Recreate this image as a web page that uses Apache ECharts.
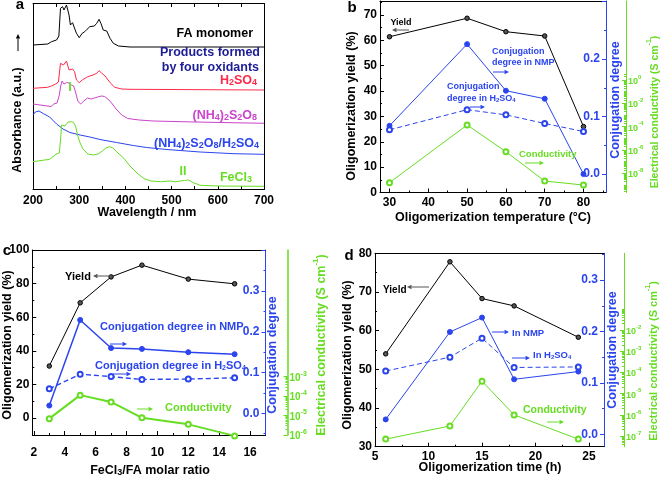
<!DOCTYPE html>
<html><head><meta charset="utf-8">
<script src="https://cdn.jsdelivr.net/npm/echarts@6/dist/echarts.min.js"></script>
<style>html,body{margin:0;padding:0;background:#fff}#c{width:661px;height:478px}</style>
</head><body><div id="c"></div>
<script>
// ---------------- DATA ----------------
// Panel a: UV-vis spectra (absorbance in arbitrary, offset units)
const aMonomerNm  = [200,232,240,251,256,259.5,264,267,272.5,278,281,285.6,289,294,300,306.5,312,317,323,327,332.6,338,343,347,352,359.6,366.7,374,385,410,700];
const aMonomerAbs = [144.5,145.5,147.8,149.5,153.5,181.2,182.8,179.5,184.5,174.5,164.5,166.8,166.2,156.2,151.8,156.2,157.8,160.2,162.8,161.8,163.5,166.2,170.2,166.2,159.5,158.5,151.2,146.2,143.5,142.5,142.5];
const aH2SO4Nm  = [200,231,240,249,255,259.5,263,266,272.5,278,281,285.6,290,294,300,306.5,316,323,330,338,343,349,356,367,377,392,410,700];
const aH2SO4Abs = [101.2,102.2,103.5,105.5,107.5,126.2,127.8,124.5,128.5,119.5,117.8,120.5,117.8,109.5,106.8,109.5,112.2,113.5,114.5,116.2,118.8,116.2,113.5,106.8,102.2,100.5,100.2,99.5];
const aAPSNm  = [200,239,245,252,257,260,263,267,273,278,283,288,292,297,303,310,318,326,333,340,348,355,362,370,380,392,405,430,460,550,700];
const aAPSAbs = [85.5,83,85.5,86.5,94.5,103.5,108.5,105.5,107,106.5,104.5,103.5,97.5,88.5,85.5,88.5,91.5,90.5,91.5,92.5,93.5,93,90.5,86.5,80.5,74.5,71,69.5,68.5,67.5,66.2];
const aAPSH2SO4Nm  = [200,205,213,222,236,251,265,280,302,323,345,381,417,446,490,562,635,700];
const aAPSH2SO4Abs = [74.5,77.5,78.5,76,72.5,65.5,60.5,57,54.5,52.5,50,47,44,42,40,37.5,35.8,35.2];
const aFeCl3Nm  = [200,236,243,248,257,259.5,262,265,269,276,283,288,292,297,302,308,319,330,341,350,358,366,373,384,396,410,425,440,455,476,497,508,518,528,537,546,562,600,700];
const aFeCl3Abs = [27.8,30.2,32.5,35,36.5,49.5,64.5,65,63.5,67.5,67.8,67,63.5,53.5,46.5,40.5,35.5,34.5,35.5,38.5,41.5,42.8,41.5,36.5,31.5,23.5,16.5,11,8.5,7.8,8.5,7.7,8.5,9,9.5,7,4.2,3.5,3.2];
const aXTicks = [200,300,400,500,600,700];

// Panel b: temperature series
const bTemp      = [30,50,60,70,80];
const bYield     = [61.4,68.7,63.4,61.7,26.0];
const bConjNMP   = [0.084,0.226,0.145,0.131,0.0];
const bConjH2SO4 = [0.077,0.112,0.103,0.088,0.074];
const bCond      = [1.6e-9,1.4e-4,7.2e-7,2.2e-9,1.0e-9];   // S/cm
const bXTicks = [30,40,50,60,70,80];
const bYTicks = [0,10,20,30,40,50,60,70];
const bConjTicks = [0.0,0.1,0.2];
const bCondTicks = [0,-2,-4,-6,-8]; // exponents

// Panel c: FeCl3/FA molar ratio series
const cRatio     = [3,5,7,9,12,15];
const cYield     = [31.0,68.6,84.0,91.0,82.7,79.9];
const cConjNMP   = [0.019,0.229,0.160,0.158,0.150,0.145];
const cConjH2SO4 = [0.060,0.096,0.090,0.083,0.084,0.087];
const cCond      = [6.9e-6,1.12e-4,5.0e-5,7.6e-6,3.5e-6,8.9e-7];
const cXTicks = [2,4,6,8,10,12,14,16];
const cYTicks = [0,20,40,60,80,100];
const cConjTicks = [0.0,0.1,0.2,0.3];
const cCondTicks = [-3,-4,-5,-6];

// Panel d: time series
const dTime      = [6,12,15,18,24];
const dYield     = [54.0,77.8,68.3,66.4,58.3];
const dConjNMP   = [0.029,0.199,0.227,0.107,0.122];
const dConjH2SO4 = [0.123,0.150,0.187,0.130,0.131];
const dCond      = [7.2e-8,3.0e-7,3.9e-5,1.0e-6,7.2e-8];
const dXTicks = [5,10,15,20,25];
const dYTicks = [30,40,50,60,70,80];
const dConjTicks = [0.0,0.1,0.2,0.3];
const dCondTicks = [-2,-3,-4,-5,-6,-7];

// ---------------- STYLE ----------------
const FONT = "'Liberation Sans', Arial, Helvetica, sans-serif";
const BLACK='#000000', BLUE='#2b45ee', GREEN='#66dd22', RED='#ff2a4a', MAG='#cc44cc', NAVY='#1c1c96';

function seq(a,b,s){const r=[];for(let v=a;v<=b+1e-9;v+=s)r.push(+v.toFixed(6));return r;}
function logMinor(lo,hi){const r=[];for(let n=Math.floor(lo)-1;n<=Math.ceil(hi);n++){for(let k=1;k<=9;k++){const v=+(n+Math.log10(k)).toFixed(5);if(v>=lo&&v<=hi)r.push(v);}}return r;}

const xAxes=[], yAxes=[], series=[], graphic=[];
function ax(list,o){
  list.push({
    type:'value', gridIndex:o.g, min:o.min, max:o.max, position:o.pos, offset:o.off||0,
    axisLine:{show:o.line!==false, onZero:false, lineStyle:{color:o.c||BLACK, width:o.lw||1}},
    axisTick:{show:!!o.ticks, inside:true, length:o.len||4, customValues:o.ticks||[], lineStyle:{color:o.c||BLACK, width:1}},
    axisLabel:{show:!!o.labels, customValues:o.labels||[], inside:!!o.lin, margin:(o.m==null?4:o.m),
      formatter:o.fmt||null, color:o.lc||o.c||BLACK, fontFamily:FONT, fontWeight:'bold', fontSize:o.fs||12, rich:o.rich||{}},
    splitLine:{show:false}, minorTick:{show:false}, silent:true
  });
  return list.length-1;
}
function line(xs,ys,xi,yi,color,o={}){
  series.push({
    type:'line', xAxisIndex:xi, yAxisIndex:yi, data:xs.map((x,i)=>[x,ys[i]]),
    symbol:o.sym||'none', symbolSize:o.ss||4.5, showSymbol:!!o.sym, clip:false,
    lineStyle:{color, width:o.lw||1, type:o.dash?[5,3]:'solid'},
    itemStyle:{color:o.fill||color, borderColor:o.border||color, borderWidth:1}, z:o.z||3
  });
}
function chemRich(s){return s.split(/(\d+)/).filter(t=>t!=='').map(t=>/^\d+$/.test(t)?'{s|'+t+'}':'{n|'+t+'}').join('');}
function T(x,y,text,o={}){
  const fs=o.fs||12, col=o.c||BLACK, al=o.a||'center';
  const st={text, fill:col, font:'bold '+fs+'px '+FONT, align:al, verticalAlign:'middle', textAlign:al, textVerticalAlign:'middle'};
  if(o.chem){
    st.text=chemRich(text);
    st.rich={n:{font:'bold '+fs+'px '+FONT, fill:col, lineHeight:fs+2, verticalAlign:'bottom'},
             s:{font:'bold '+Math.round(fs*0.68)+'px '+FONT, fill:col, lineHeight:Math.round(fs*0.75), verticalAlign:'bottom'}};
  }
  if(o.sup){
    st.text=o.sup;
    st.rich={n:{font:'bold '+fs+'px '+FONT, fill:col, lineHeight:fs+4, verticalAlign:'bottom'},
             p:{font:'bold '+Math.round(fs*0.65)+'px '+FONT, fill:col, lineHeight:Math.round(fs*0.7), verticalAlign:'top'}};
  }
  graphic.push({type:'text', x, y, rotation:o.r||0, z:50, silent:true, style:st});
}
function arrow(x1,y1,x2,y2,color){
  const ang=Math.atan2(y2-y1,x2-x1), L=4.5, W=2.2;
  const bx=x2-L*Math.cos(ang), by=y2-L*Math.sin(ang), px=-Math.sin(ang)*W, py=Math.cos(ang)*W;
  graphic.push({type:'line', silent:true, z:50, shape:{x1,y1,x2:bx,y2:by}, style:{stroke:color, lineWidth:1}});
  graphic.push({type:'polygon', silent:true, z:50, shape:{points:[[x2,y2],[bx+px,by+py],[bx-px,by-py]]}, style:{fill:color}});
}
const condRich = fs => ({b:{fontSize:fs, fontWeight:'bold', color:GREEN, fontFamily:FONT, lineHeight:fs+3, verticalAlign:'bottom'},
                         p:{fontSize:Math.round(fs*0.65), fontWeight:'bold', color:GREEN, fontFamily:FONT, lineHeight:Math.round(fs*0.7), verticalAlign:'top'}});
const condFmt = v => '{b|10}{p|' + Math.round(v) + '}';
const conjFmt = v => (+v).toFixed(1);
const log10 = arr => arr.map(v=>Math.log10(v));

// ---------------- PANEL A ----------------
{
  const g=0;
  const xi=ax(xAxes,{g,min:200,max:700,pos:'bottom',ticks:seq(200,700,50),labels:aXTicks,len:3.5,m:5});
  ax(xAxes,{g,min:200,max:700,pos:'top',ticks:seq(250,650,50),len:3.5});
  const yi=ax(yAxes,{g,min:0,max:186,pos:'left'});
  ax(yAxes,{g,min:0,max:186,pos:'right'});
  line(aMonomerNm,aMonomerAbs,xi,yi,BLACK);
  line(aH2SO4Nm,aH2SO4Abs,xi,yi,RED);
  line(aAPSNm,aAPSAbs,xi,yi,MAG);
  line(aAPSH2SO4Nm,aAPSH2SO4Abs,xi,yi,BLUE);
  line(aFeCl3Nm,aFeCl3Abs,xi,yi,GREEN);
  T(20,5,'a',{fs:15});
  T(253,34,'FA monomer',{a:'right',fs:12.5});
  T(260,53,'Products formed',{a:'right',fs:12.5,c:NAVY});
  T(259,68,'by four oxidants',{a:'right',fs:12.5,c:NAVY});
  T(257,80,'H2SO4',{a:'right',fs:12.5,c:RED,chem:true});
  T(257,115,'(NH4)2S2O8',{a:'right',fs:12.5,c:MAG,chem:true});
  T(259,143,'(NH4)2S2O8/H2SO4',{a:'right',fs:12.5,c:BLUE,chem:true});
  T(70,88,'I',{fs:12.5,c:GREEN});
  T(183,172,'II',{fs:12.5,c:GREEN});
  T(252,177,'FeCl3',{a:'right',fs:12.5,c:GREEN,chem:true});
  T(147,213,'Wavelength / nm',{fs:12.5});
  T(18,120,'Absorbance (a.u.)',{fs:12.5,r:Math.PI/2});
  arrow(18,51,18,34,BLACK);
}

// ---------------- PANEL B ----------------
{
  const g=1;
  const xi=ax(xAxes,{g,min:27.55,max:85.8,pos:'bottom',ticks:bXTicks,labels:bXTicks,m:4.5});
  ax(xAxes,{g,min:27.55,max:85.8,pos:'bottom',line:false,ticks:seq(35,85,10),len:2});
  ax(xAxes,{g,min:27.55,max:85.8,pos:'top'});
  const yi=ax(yAxes,{g,min:0,max:75.5,pos:'left',ticks:bYTicks,labels:bYTicks,m:3});
  ax(yAxes,{g,min:0,max:75.5,pos:'left',line:false,ticks:seq(5,75,10),len:2});
  const yb=ax(yAxes,{g,min:-0.032,max:0.301,pos:'right',c:BLUE,ticks:[0,0.1,0.2,0.3],labels:bConjTicks,lin:true,m:6,fmt:conjFmt});
  ax(yAxes,{g,min:-0.032,max:0.301,pos:'right',c:BLUE,line:false,ticks:[0.05,0.15,0.25],len:2});
  const yg=ax(yAxes,{g,min:-9.64,max:6.77,pos:'right',off:20,c:GREEN,ticks:bCondTicks,labels:bCondTicks,m:2,fmt:condFmt,rich:condRich(9),len:4});
  ax(yAxes,{g,min:-9.64,max:6.77,pos:'right',off:20,c:GREEN,line:false,ticks:logMinor(-9.64,0.6),len:2});
  line(bTemp,bYield,xi,yi,BLACK,{sym:'circle',fill:'#555',border:BLACK,ss:4.5});
  line(bTemp,bConjNMP,xi,yb,BLUE,{sym:'circle',ss:5});
  line(bTemp,bConjH2SO4,xi,yb,BLUE,{sym:'emptyCircle',ss:5,dash:true});
  line(bTemp,log10(bCond),xi,yg,GREEN,{sym:'emptyCircle',ss:5});
  T(352,8,'b',{fs:15});
  T(401,23,'Yield',{fs:9});
  arrow(409,30,392,30,'#555');
  T(492,52,'Conjugation',{a:'left',fs:9,c:BLUE});
  T(492,63,'degree in NMP',{a:'left',fs:9,c:BLUE});
  arrow(493,72,509,72,BLUE);
  T(447,87,'Conjugation',{a:'left',fs:9,c:BLUE});
  T(447,98,'degree in H2SO4',{a:'left',fs:9,c:BLUE,chem:true});
  arrow(470,107,485,107,BLUE);
  T(519,154,'Conductivity',{a:'left',fs:9.5,c:GREEN});
  arrow(525,163,544,163,GREEN);
  T(493,218,'Oligomerization temperature (°C)',{fs:12.5});
  T(352,106,'Oligomerization yield (%)',{fs:12.5,r:Math.PI/2});
  T(616,100,'Conjugation degree',{fs:12.5,c:BLUE,r:Math.PI/2});
  T(653,112,'',{fs:10.5,c:GREEN,r:Math.PI/2,sup:'{n|Electrical conductivity (S cm}{p|-1}{n|)}'});
}

// ---------------- PANEL C ----------------
{
  const g=2;
  const xi=ax(xAxes,{g,min:1.9,max:17,pos:'bottom',ticks:cXTicks,labels:cXTicks,m:12});
  ax(xAxes,{g,min:1.9,max:17,pos:'bottom',line:false,ticks:seq(3,15,2),len:2});
  ax(xAxes,{g,min:1.9,max:17,pos:'top'});
  const yi=ax(yAxes,{g,min:-10,max:100,pos:'left',ticks:cYTicks,labels:cYTicks,m:3});
  ax(yAxes,{g,min:-10,max:100,pos:'left',line:false,ticks:seq(-10,90,20),len:2});
  const yb=ax(yAxes,{g,min:-0.0532,max:0.4005,pos:'right',c:BLUE,ticks:[0,0.1,0.2,0.3,0.4],labels:cConjTicks,lin:true,m:6,fmt:conjFmt});
  ax(yAxes,{g,min:-0.0532,max:0.4005,pos:'right',c:BLUE,line:false,ticks:[-0.05,0.05,0.15,0.25,0.35],len:2});
  const yg=ax(yAxes,{g,min:-6.005,max:3.53,pos:'right',off:22,c:GREEN,ticks:cCondTicks,labels:cCondTicks,m:2,fmt:condFmt,rich:condRich(10),len:4,lw:1.5});
  ax(yAxes,{g,min:-6.005,max:3.53,pos:'right',off:22,c:GREEN,line:false,ticks:logMinor(-6.005,-2.8),len:2});
  line(cRatio,cYield,xi,yi,BLACK,{sym:'circle',fill:'#555',border:BLACK,ss:4.5});
  line(cRatio,cConjNMP,xi,yb,BLUE,{sym:'circle',ss:5,lw:1.5});
  line(cRatio,cConjH2SO4,xi,yb,BLUE,{sym:'emptyCircle',ss:5,dash:true,lw:1.4});
  line(cRatio,log10(cCond),xi,yg,GREEN,{sym:'emptyCircle',ss:5,lw:2});
  T(7,251,'c',{fs:15});
  T(65,277,'Yield',{a:'left',fs:11});
  arrow(111,276,93,276,'#555');
  T(100,327,'Conjugation degree in NMP',{a:'left',fs:11,c:BLUE});
  arrow(110,344,127,344,BLUE);
  T(95,365,'Conjugation degree in H2SO4',{a:'left',fs:11,c:BLUE,chem:true});
  arrow(113,374,131,374,BLUE);
  T(165,408,'Conductivity',{a:'left',fs:11,c:GREEN});
  arrow(137,409,153,409,GREEN);
  T(150,470,'FeCl3/FA molar ratio',{fs:12.5,chem:true});
  T(8,345,'Oligomerization yield (%)',{fs:12.5,r:Math.PI/2});
  T(273,355,'Conjugation degree',{fs:12.5,c:BLUE,r:Math.PI/2});
  T(320,345,'',{fs:12.5,c:GREEN,r:Math.PI/2,sup:'{n|Electrical conductivity (S cm}{p|-1}{n|)}'});
}

// ---------------- PANEL D ----------------
{
  const g=3;
  const xi=ax(xAxes,{g,min:5,max:26.4,pos:'bottom',ticks:dXTicks,labels:dXTicks,m:4});
  ax(xAxes,{g,min:5,max:26.4,pos:'bottom',line:false,ticks:[7.5,12.5,17.5,22.5],len:2});
  ax(xAxes,{g,min:5,max:26.4,pos:'top'});
  const yi=ax(yAxes,{g,min:30,max:80,pos:'left',ticks:dYTicks,labels:dYTicks,m:3});
  ax(yAxes,{g,min:30,max:80,pos:'left',line:false,ticks:seq(35,75,10),len:2});
  const yb=ax(yAxes,{g,min:-0.0241,max:0.352,pos:'right',c:BLUE,ticks:[0,0.1,0.2,0.3],labels:dConjTicks,lin:true,m:6,fmt:conjFmt});
  ax(yAxes,{g,min:-0.0241,max:0.352,pos:'right',c:BLUE,line:false,ticks:[0.05,0.15,0.25,0.35],len:2});
  const yg=ax(yAxes,{g,min:-7.5,max:1.62,pos:'right',off:20,c:GREEN,ticks:dCondTicks,labels:dCondTicks,m:2,fmt:condFmt,rich:condRich(9),len:4});
  ax(yAxes,{g,min:-7.5,max:1.62,pos:'right',off:20,c:GREEN,line:false,ticks:logMinor(-7.5,-1),len:2});
  line(dTime,dYield,xi,yi,BLACK,{sym:'circle',fill:'#555',border:BLACK,ss:4.5});
  line(dTime,dConjNMP,xi,yb,BLUE,{sym:'circle',ss:5});
  line(dTime,dConjH2SO4,xi,yb,BLUE,{sym:'emptyCircle',ss:5,dash:true});
  line(dTime,log10(dCond),xi,yg,GREEN,{sym:'emptyCircle',ss:5});
  T(349,256,'d',{fs:15});
  T(383,290,'Yield',{a:'left',fs:10});
  arrow(429,287,407,287,'#555');
  arrow(492,332,509,332,BLUE);
  T(512,333,'In NMP',{a:'left',fs:9.5,c:BLUE});
  arrow(512,358,530,358,BLUE);
  T(533,355,'In H2SO4',{a:'left',fs:9.5,c:BLUE,chem:true});
  T(523,410,'Conductivity',{a:'left',fs:10.5,c:GREEN});
  arrow(547,422,564,422,GREEN);
  T(490,468,'Oligomerization time (h)',{fs:12.5});
  T(348,355,'Oligomerization yield (%)',{fs:12.5,r:Math.PI/2});
  T(613,350,'Conjugation degree',{fs:12.5,c:BLUE,r:Math.PI/2});
  T(652,361,'',{fs:11,c:GREEN,r:Math.PI/2,sup:'{n|Electrical conductivity (S cm}{p|-1}{n|)}'});
}

const chart = echarts.init(document.getElementById('c'), null, {renderer:'canvas'});
chart.setOption({
  animation:false,
  backgroundColor:'#ffffff',
  grid:[
    {left:33, top:3.5, width:231, height:186},
    {left:380, top:1, width:226, height:191.5},
    {left:32.3, top:250, width:233.2, height:185},
    {left:375, top:253.3, width:229, height:193.4}
  ],
  xAxis:xAxes, yAxis:yAxes, series, graphic
});
</script></body></html>
